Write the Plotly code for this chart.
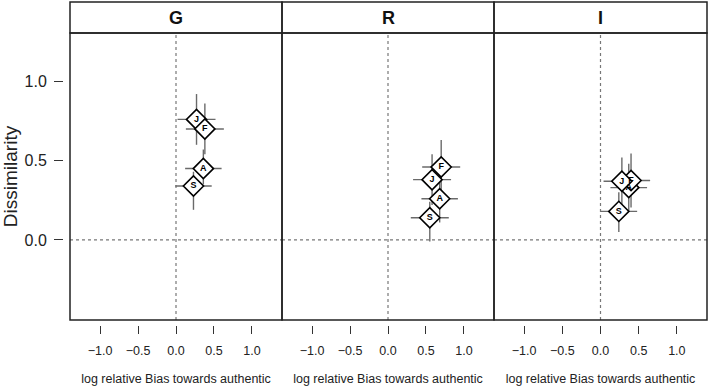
import plotly.graph_objects as go

panels = ["G", "R", "I"]

# panel G
g_lab = ["J", "F", "A", "S"]
g_x = [0.27, 0.38, 0.36, 0.23]
g_y = [0.76, 0.70, 0.45, 0.34]
g_xerr = [0.25, 0.25, 0.24, 0.24]
g_yerr_up = [0.16, 0.16, 0.12, 0.09]
g_yerr_dn = [0.16, 0.16, 0.10, 0.15]
# panel R
r_lab = ["F", "J", "A", "S"]
r_x = [0.70, 0.58, 0.68, 0.55]
r_y = [0.46, 0.38, 0.26, 0.14]
r_xerr = [0.25, 0.25, 0.24, 0.25]
r_yerr_up = [0.17, 0.16, 0.15, 0.10]
r_yerr_dn = [0.17, 0.16, 0.15, 0.15]
# panel I
i_lab = ["A", "F", "J", "S"]
i_x = [0.37, 0.40, 0.28, 0.24]
i_y = [0.33, 0.375, 0.37, 0.18]
i_xerr = [0.24, 0.25, 0.24, 0.24]
i_yerr_up = [0.15, 0.17, 0.15, 0.12]
i_yerr_dn = [0.15, 0.17, 0.15, 0.13]

x_ticks = [-1.0, -0.5, 0.0, 0.5, 1.0]
x_ticktext = ["\u22121.0", "\u22120.5", "0.0", "0.5", "1.0"]
y_ticks = [0.0, 0.5, 1.0]
x_range = [-1.395, 1.395]
y_range = [-0.505, 1.305]

data = [
    (g_lab, g_x, g_y, g_xerr, g_yerr_up, g_yerr_dn),
    (r_lab, r_x, r_y, r_xerr, r_yerr_up, r_yerr_dn),
    (i_lab, i_x, i_y, i_xerr, i_yerr_up, i_yerr_dn),
]

W, H = 709, 389
px_left = [70, 282, 494]
px_right = [282, 494, 707]
dom_bottom = (H - 320) / H
dom_top = (H - 33) / H
strip_top = (H - 2) / H

FONT = "Liberation Sans, Arial, sans-serif"
fig = go.Figure()

for k, (lab, xs, ys, xe, yu, yd) in enumerate(data):
    sfx = "" if k == 0 else str(k + 1)
    fig.add_trace(go.Scatter(
        x=xs, y=ys, text=lab, mode="markers+text",
        xaxis="x" + sfx, yaxis="y" + sfx,
        textposition="middle center",
        textfont=dict(family=FONT, size=9, color="black", weight="bold"),
        marker=dict(symbol="diamond", size=15.5, color="white",
                    line=dict(color="black", width=1.6)),
        error_x=dict(type="data", array=xe, visible=True, width=0,
                     thickness=1.4, color="#6a6a6a"),
        error_y=dict(type="data", symmetric=False, array=yu, arrayminus=yd,
                     visible=True, width=0, thickness=1.4, color="#6a6a6a"),
        showlegend=False, cliponaxis=False, hoverinfo="skip",
    ))

layout = dict(
    width=W, height=H, margin=dict(l=0, r=0, t=0, b=0),
    paper_bgcolor="white", plot_bgcolor="white",
    font=dict(family=FONT, color="#222"),
    shapes=[], annotations=[],
)

for k in range(3):
    sfx = "" if k == 0 else str(k + 1)
    xd = [px_left[k] / W, px_right[k] / W]
    layout["xaxis" + sfx] = dict(
        domain=xd, range=x_range, anchor="free",
        position=(H - 325) / H,
        tickvals=x_ticks, ticktext=x_ticktext, ticks="outside", ticklen=8,
        ticklabelstandoff=6,
        tickwidth=1.4, tickcolor="#333", showline=False, showgrid=False,
        zeroline=False, tickfont=dict(size=12.5, color="#222"),
        title=dict(text="log relative Bias towards authentic",
                   font=dict(size=12.5, color="#222"), standoff=17),
    )
    yax = dict(domain=[dom_bottom, dom_top], range=y_range, showgrid=False,
               zeroline=False, showline=False)
    if k == 0:
        yax.update(anchor="free", position=63 / W, tickvals=y_ticks,
                   ticktext=["0.0", "0.5", "1.0"], ticks="outside", ticklen=9,
                   ticklabelstandoff=4,
                   tickwidth=1.4, tickcolor="#333",
                   tickfont=dict(size=16, color="#222"),
                   title=dict(text="Dissimilarity",
                              font=dict(size=19, color="#222"), standoff=2))
    else:
        yax.update(anchor="x" + sfx, showticklabels=False, ticks="")
    layout["yaxis" + sfx] = yax

    xr = "x" + sfx
    yr = "y" + sfx
    # dotted reference lines
    layout["shapes"].append(dict(type="line", xref=xr, yref=yr + " domain",
                                 x0=0, x1=0, y0=0, y1=1, layer="below",
                                 line=dict(color="#777", width=1.2, dash="dot")))
    layout["shapes"].append(dict(type="line", xref=xr + " domain", yref=yr,
                                 x0=0, x1=1, y0=0, y1=0, layer="below",
                                 line=dict(color="#777", width=1.2, dash="dot")))
    # panel border
    layout["shapes"].append(dict(type="rect", xref=xr + " domain", yref=yr + " domain",
                                 x0=0, x1=1, y0=0, y1=1,
                                 line=dict(color="#222", width=1.5)))
    # strip
    layout["shapes"].append(dict(type="rect", xref=xr + " domain", yref="paper",
                                 x0=0, x1=1, y0=dom_top, y1=strip_top,
                                 line=dict(color="#222", width=1.5)))
    layout["annotations"].append(dict(text="<b>%s</b>" % panels[k],
                                      xref=xr + " domain", yref="paper",
                                      x=0.5, y=(dom_top + strip_top) / 2,
                                      xanchor="center", yanchor="middle",
                                      showarrow=False,
                                      font=dict(size=18, color="#111")))

fig.update_layout(**layout)
fig.write_html("out.html", config={"displayModeBar": False},
               post_script="document.body.style.margin='0';document.body.style.overflow='hidden';")
